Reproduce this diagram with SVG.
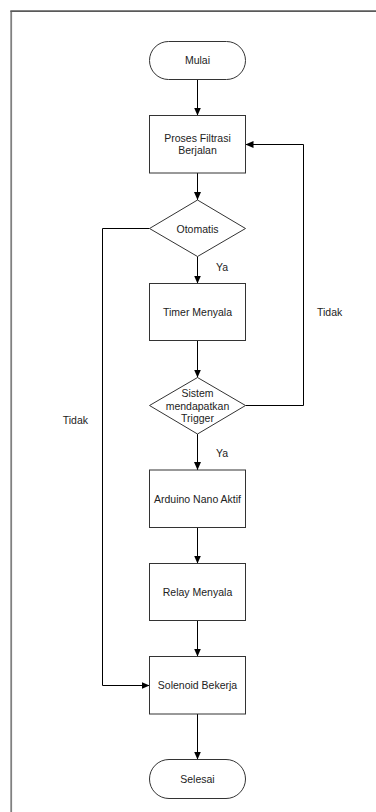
<svg xmlns="http://www.w3.org/2000/svg" width="376" height="812" viewBox="0 0 376 812">
<style>
.shape{fill:#fff;stroke:#333;stroke-width:1}
.edge{fill:none;stroke:#000;stroke-width:1}
text{font-family:"Liberation Sans",Arial,sans-serif;font-size:10.5px;fill:#222;text-anchor:middle}
.lbl{text-anchor:start}
</style>
<defs>
<marker id="arr" viewBox="0 0 8 8" refX="8" refY="4" markerWidth="8" markerHeight="8" markerUnits="userSpaceOnUse" orient="auto">
<path d="M0,0.5 L8,4 L0,7.5 Z" fill="#000"/>
</marker>
</defs>
<rect width="376" height="812" fill="#fff"/>
<g id="frame">
<line x1="11.2" y1="812" x2="11.2" y2="11.2" stroke="#808080" stroke-width="1.8"/>
<line x1="10.3" y1="11.2" x2="376" y2="11.2" stroke="#5a5a5a" stroke-width="1.8"/>
</g>
<g id="connectors">
<line class="edge" x1="197.5" y1="79.5" x2="197.5" y2="115.5" marker-end="url(#arr)"/>
<line class="edge" x1="197.5" y1="173" x2="197.5" y2="200" marker-end="url(#arr)"/>
<line class="edge" x1="197.5" y1="256.5" x2="197.5" y2="283.5" marker-end="url(#arr)"/>
<line class="edge" x1="197.5" y1="340.5" x2="197.5" y2="377.5" marker-end="url(#arr)"/>
<line class="edge" x1="197.5" y1="434" x2="197.5" y2="470" marker-end="url(#arr)"/>
<line class="edge" x1="197.5" y1="527.5" x2="197.5" y2="563.5" marker-end="url(#arr)"/>
<line class="edge" x1="197.5" y1="620.5" x2="197.5" y2="656.5" marker-end="url(#arr)"/>
<line class="edge" x1="197.5" y1="714" x2="197.5" y2="759.5" marker-end="url(#arr)"/>
<polyline class="edge" points="245.5,405.5 303.5,405.5 303.5,144.5 245.5,144.5" marker-end="url(#arr)"/>
<polyline class="edge" points="149.5,228.5 102.5,228.5 102.5,685.5 149.5,685.5" marker-end="url(#arr)"/>
<text class="lbl" x="216" y="270.5">Ya</text>
<text class="lbl" x="216" y="456.5">Ya</text>
<text class="lbl" x="317" y="316">Tidak</text>
<text class="lbl" x="62.7" y="424">Tidak</text>
</g>
<g id="mulai">
<rect class="shape" x="149.5" y="41.5" width="96" height="38" rx="19" ry="19"/>
<text x="197.5" y="64">Mulai</text>
</g>
<g id="proses">
<rect class="shape" x="149.5" y="115.5" width="96" height="57.5"/>
<text x="197.5" y="142">Proses Filtrasi</text>
<text x="197.5" y="154">Berjalan</text>
</g>
<g id="otomatis">
<polygon class="shape" points="197.5,200 245.5,228.5 197.5,256.5 149.5,228.5"/>
<text x="197.5" y="232.5">Otomatis</text>
</g>
<g id="timer">
<rect class="shape" x="149.5" y="283.5" width="96" height="57"/>
<text x="197.5" y="315.5">Timer Menyala</text>
</g>
<g id="trigger">
<polygon class="shape" points="197.5,377.5 245.5,405.5 197.5,434 149.5,405.5"/>
<text x="197.5" y="396.5">Sistem</text>
<text x="197.5" y="409.5">mendapatkan</text>
<text x="197.5" y="421.5">Trigger</text>
</g>
<g id="arduino">
<rect class="shape" x="149.5" y="470" width="96" height="57.5"/>
<text x="197.5" y="503">Arduino Nano Aktif</text>
</g>
<g id="relay">
<rect class="shape" x="149.5" y="563.5" width="96" height="57"/>
<text x="197.5" y="595.5">Relay Menyala</text>
</g>
<g id="solenoid">
<rect class="shape" x="149.5" y="656.5" width="96" height="57.5"/>
<text x="197.5" y="689">Solenoid Bekerja</text>
</g>
<g id="selesai">
<rect class="shape" x="149.5" y="759.5" width="96" height="39" rx="19.5" ry="19.5"/>
<text x="197.5" y="782.5">Selesai</text>
</g>
</svg>
